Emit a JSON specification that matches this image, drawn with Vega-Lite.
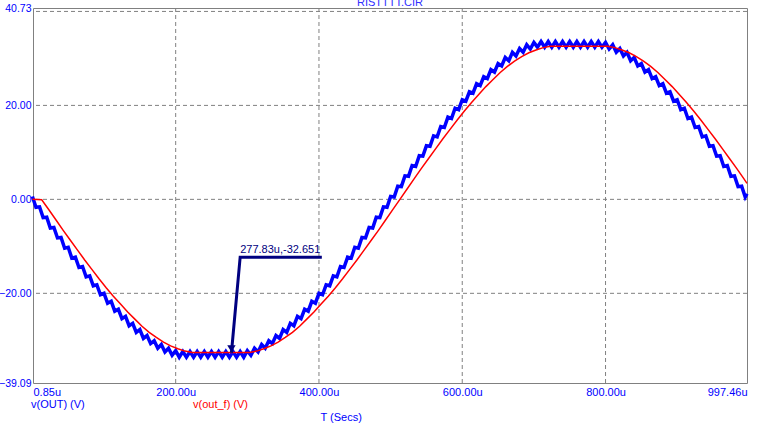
{
"$schema": "https://vega.github.io/schema/vega-lite/v6.json",
"width": 714,
"height": 375,
"autosize": {"type": "none"},
"padding": {"left": 33, "top": 8, "right": 24, "bottom": 43},
"config": {"font": "Liberation Sans", "view": {"stroke": "#808080", "strokeWidth": 1}},
"datasets": {
"gridy": [{"gy": 40}, {"gy": 20}, {"gy": 0}, {"gy": -20}],
"gridx": [{"gx": 200}, {"gx": 400}, {"gx": 600}, {"gx": 800}],
"cursor": [{"t": 277.83, "v": -32.651, "o": 0, "lab": "277.83u,-32.651"}, {"t": 290, "v": -12.3, "o": 1, "lab": ""}, {"t": 404, "v": -12.3, "o": 2, "lab": ""}],
"blue": [
{"t":0,"v":0.6},{"t":5,"v":-1.7},{"t":10,"v":-1.6},{"t":15,"v":-3.9},{"t":20,"v":-3.8},{"t":25,"v":-6.1},{"t":30,"v":-6.0},{"t":35,"v":-8.2},{"t":40,"v":-8.1},{"t":45,"v":-10.4},
{"t":50,"v":-10.2},{"t":55,"v":-12.5},{"t":60,"v":-12.3},{"t":65,"v":-14.5},{"t":70,"v":-14.3},{"t":75,"v":-16.5},{"t":80,"v":-16.3},{"t":85,"v":-18.4},{"t":90,"v":-18.2},{"t":95,"v":-20.3},
{"t":100,"v":-20.0},{"t":105,"v":-22.1},{"t":110,"v":-21.7},{"t":115,"v":-23.8},{"t":120,"v":-23.4},{"t":125,"v":-25.4},{"t":130,"v":-24.9},{"t":135,"v":-26.9},{"t":140,"v":-26.4},{"t":145,"v":-28.3},
{"t":150,"v":-27.7},{"t":155,"v":-29.6},{"t":160,"v":-29.0},{"t":165,"v":-30.7},{"t":170,"v":-30.1},{"t":175,"v":-31.7},{"t":180,"v":-30.9},{"t":185,"v":-32.5},{"t":190,"v":-31.7},{"t":195,"v":-33.2},
{"t":200,"v":-32.2},{"t":205,"v":-33.6},{"t":210,"v":-32.4},{"t":215,"v":-33.6},{"t":220,"v":-32.4},{"t":225,"v":-33.6},{"t":230,"v":-32.4},{"t":235,"v":-33.6},{"t":240,"v":-32.4},{"t":245,"v":-33.6},
{"t":250,"v":-32.4},{"t":255,"v":-33.6},{"t":260,"v":-32.4},{"t":265,"v":-33.6},{"t":270,"v":-32.4},{"t":275,"v":-33.6},{"t":280,"v":-32.4},{"t":285,"v":-33.6},{"t":290,"v":-32.4},{"t":295,"v":-33.6},
{"t":300,"v":-32.2},{"t":305,"v":-33.2},{"t":310,"v":-31.7},{"t":315,"v":-32.5},{"t":320,"v":-30.9},{"t":325,"v":-31.7},{"t":330,"v":-30.1},{"t":335,"v":-30.7},{"t":340,"v":-29.0},{"t":345,"v":-29.6},
{"t":350,"v":-27.7},{"t":355,"v":-28.3},{"t":360,"v":-26.4},{"t":365,"v":-26.9},{"t":370,"v":-24.9},{"t":375,"v":-25.4},{"t":380,"v":-23.4},{"t":385,"v":-23.8},{"t":390,"v":-21.7},{"t":395,"v":-22.1},
{"t":400,"v":-20.0},{"t":405,"v":-20.3},{"t":410,"v":-18.2},{"t":415,"v":-18.4},{"t":420,"v":-16.3},{"t":425,"v":-16.5},{"t":430,"v":-14.3},{"t":435,"v":-14.5},{"t":440,"v":-12.3},{"t":445,"v":-12.5},
{"t":450,"v":-10.2},{"t":455,"v":-10.4},{"t":460,"v":-8.1},{"t":465,"v":-8.2},{"t":470,"v":-6.0},{"t":475,"v":-6.1},{"t":480,"v":-3.8},{"t":485,"v":-3.9},{"t":490,"v":-1.6},{"t":495,"v":-1.7},
{"t":500,"v":0.6},{"t":505,"v":0.5},{"t":510,"v":2.8},{"t":515,"v":2.7},{"t":520,"v":5.0},{"t":525,"v":4.9},{"t":530,"v":7.2},{"t":535,"v":7.0},{"t":540,"v":9.3},{"t":545,"v":9.2},
{"t":550,"v":11.4},{"t":555,"v":11.3},{"t":560,"v":13.5},{"t":565,"v":13.3},{"t":570,"v":15.5},{"t":575,"v":15.3},{"t":580,"v":17.5},{"t":585,"v":17.2},{"t":590,"v":19.4},{"t":595,"v":19.1},
{"t":600,"v":21.2},{"t":605,"v":20.9},{"t":610,"v":22.9},{"t":615,"v":22.6},{"t":620,"v":24.6},{"t":625,"v":24.2},{"t":630,"v":26.1},{"t":635,"v":25.7},{"t":640,"v":27.6},{"t":645,"v":27.1},
{"t":650,"v":28.9},{"t":655,"v":28.4},{"t":660,"v":30.2},{"t":665,"v":29.5},{"t":670,"v":31.3},{"t":675,"v":30.5},{"t":680,"v":32.1},{"t":685,"v":31.3},{"t":690,"v":32.9},{"t":695,"v":32.0},
{"t":700,"v":33.4},{"t":705,"v":32.4},{"t":710,"v":33.6},{"t":715,"v":32.4},{"t":720,"v":33.6},{"t":725,"v":32.4},{"t":730,"v":33.6},{"t":735,"v":32.4},{"t":740,"v":33.6},{"t":745,"v":32.4},
{"t":750,"v":33.6},{"t":755,"v":32.4},{"t":760,"v":33.6},{"t":765,"v":32.4},{"t":770,"v":33.6},{"t":775,"v":32.4},{"t":780,"v":33.6},{"t":785,"v":32.4},{"t":790,"v":33.6},{"t":795,"v":32.4},
{"t":800,"v":33.4},{"t":805,"v":32.0},{"t":810,"v":32.9},{"t":815,"v":31.3},{"t":820,"v":32.1},{"t":825,"v":30.5},{"t":830,"v":31.3},{"t":835,"v":29.5},{"t":840,"v":30.2},{"t":845,"v":28.4},
{"t":850,"v":28.9},{"t":855,"v":27.1},{"t":860,"v":27.6},{"t":865,"v":25.7},{"t":870,"v":26.1},{"t":875,"v":24.2},{"t":880,"v":24.6},{"t":885,"v":22.6},{"t":890,"v":22.9},{"t":895,"v":20.9},
{"t":900,"v":21.2},{"t":905,"v":19.1},{"t":910,"v":19.4},{"t":915,"v":17.2},{"t":920,"v":17.5},{"t":925,"v":15.3},{"t":930,"v":15.5},{"t":935,"v":13.3},{"t":940,"v":13.5},{"t":945,"v":11.3},
{"t":950,"v":11.4},{"t":955,"v":9.2},{"t":960,"v":9.3},{"t":965,"v":7.0},{"t":970,"v":7.2},{"t":975,"v":4.9},{"t":980,"v":5.0},{"t":985,"v":2.7},{"t":990,"v":2.8},{"t":995,"v":0.5},
{"t":997.46,"v":1.2}
],
"red": [
{"t":0,"v":0},{"t":13,"v":-0.1},{"t":23,"v":-2.2},{"t":33,"v":-4.4},{"t":43,"v":-6.6},{"t":53,"v":-8.7},{"t":63,"v":-10.8},{"t":73,"v":-12.9},{"t":83,"v":-14.9},{"t":93,"v":-16.9},
{"t":103,"v":-18.8},{"t":113,"v":-20.6},{"t":123,"v":-22.3},{"t":133,"v":-24.0},{"t":143,"v":-25.5},{"t":153,"v":-27.0},{"t":163,"v":-28.3},{"t":173,"v":-29.4},{"t":183,"v":-30.4},{"t":193,"v":-31.2},
{"t":203,"v":-31.8},{"t":213,"v":-32.3},{"t":223,"v":-32.6},{"t":233,"v":-32.6},{"t":243,"v":-32.6},{"t":253,"v":-32.6},{"t":263,"v":-32.6},{"t":273,"v":-32.6},{"t":283,"v":-32.6},{"t":293,"v":-32.6},
{"t":303,"v":-32.6},{"t":313,"v":-32.3},{"t":323,"v":-31.8},{"t":333,"v":-31.2},{"t":343,"v":-30.4},{"t":353,"v":-29.4},{"t":363,"v":-28.3},{"t":373,"v":-27.0},{"t":383,"v":-25.5},{"t":393,"v":-24.0},
{"t":403,"v":-22.3},{"t":413,"v":-20.6},{"t":423,"v":-18.8},{"t":433,"v":-16.9},{"t":443,"v":-14.9},{"t":453,"v":-12.9},{"t":463,"v":-10.8},{"t":473,"v":-8.7},{"t":483,"v":-6.6},{"t":493,"v":-4.4},
{"t":503,"v":-2.2},{"t":513,"v":0},{"t":523,"v":2.2},{"t":533,"v":4.4},{"t":543,"v":6.6},{"t":553,"v":8.7},{"t":563,"v":10.8},{"t":573,"v":12.9},{"t":583,"v":14.9},{"t":593,"v":16.9},
{"t":603,"v":18.8},{"t":613,"v":20.6},{"t":623,"v":22.3},{"t":633,"v":24.0},{"t":643,"v":25.5},{"t":653,"v":27.0},{"t":663,"v":28.3},{"t":673,"v":29.4},{"t":683,"v":30.4},{"t":693,"v":31.2},
{"t":703,"v":31.8},{"t":713,"v":32.3},{"t":723,"v":32.6},{"t":733,"v":32.6},{"t":743,"v":32.6},{"t":753,"v":32.6},{"t":763,"v":32.6},{"t":773,"v":32.6},{"t":783,"v":32.6},{"t":793,"v":32.6},
{"t":803,"v":32.6},{"t":813,"v":32.3},{"t":823,"v":31.8},{"t":833,"v":31.2},{"t":843,"v":30.4},{"t":853,"v":29.4},{"t":863,"v":28.3},{"t":873,"v":27.0},{"t":883,"v":25.5},{"t":893,"v":24.0},
{"t":903,"v":22.3},{"t":913,"v":20.6},{"t":923,"v":18.8},{"t":933,"v":16.9},{"t":943,"v":14.9},{"t":953,"v":12.9},{"t":963,"v":10.8},{"t":973,"v":8.7},{"t":983,"v":6.6},{"t":993,"v":4.4},
{"t":997.46,"v":3.4}
]
},
"layer": [
{
"data": {"name": "gridy"},
"mark": {"type": "rule", "color": "#808080", "strokeDash": [4, 3], "strokeWidth": 1},
"encoding": {"y": {"field": "gy", "type": "quantitative", "scale": {"domain": [-39.09, 40.73], "nice": false, "zero": false}}}
},
{
"data": {"name": "gridx"},
"mark": {"type": "rule", "color": "#808080", "strokeDash": [4, 3], "strokeWidth": 1},
"encoding": {"x": {"field": "gx", "type": "quantitative", "scale": {"domain": [0.85, 997.46], "nice": false, "zero": false}}}
},
{
"data": {"name": "blue"},
"mark": {"type": "line", "strokeWidth": 3.5, "strokeJoin": "miter"},
"encoding": {
"x": {"field": "t", "type": "quantitative", "scale": {"domain": [0.85, 997.46], "nice": false, "zero": false},
 "axis": {"values": [0.85, 200, 400, 600, 800, 997.46], "labelExpr": "format(datum.value, '.2f') + 'u'", "labelFlush": true, "labelOverlap": false, "grid": false, "ticks": false, "domain": false, "labelPadding": 3, "labelColor": "#0000FF", "labelFontSize": 11, "title": "T (Secs)", "titleColor": "#0000FF", "titleFontSize": 11, "titleFontWeight": "normal", "titleX": 287, "titleY": 28, "titleAlign": "left", "titleBaseline": "top"}},
"y": {"field": "v", "type": "quantitative", "scale": {"domain": [-39.09, 40.73], "nice": false, "zero": false},
 "axis": {"values": [-39.09, -20, 0, 20, 40.73], "format": ".2f", "labelOverlap": false, "grid": false, "ticks": false, "domain": false, "labelPadding": 2, "labelColor": "#0000FF", "labelFontSize": 10.5, "title": null}},
"color": {"datum": "v(OUT) (V)", "type": "nominal",
 "scale": {"domain": ["v(OUT) (V)", "v(out_f) (V)"], "range": ["#0000FF", "#FF0000"]},
 "legend": {"orient": "none", "legendX": -13, "legendY": 391, "direction": "horizontal", "title": null, "symbolSize": 0, "symbolStrokeWidth": 0, "symbolOpacity": 0, "labelOffset": 0, "columnPadding": 97, "labelFontSize": 11, "labelLimit": 200,
  "encode": {"labels": {"update": {"fill": {"scale": "color", "field": "value"}}}}}}
}
},
{
"data": {"name": "red"},
"mark": {"type": "line", "strokeWidth": 1.5},
"encoding": {
"x": {"field": "t", "type": "quantitative", "scale": {"domain": [0.85, 997.46], "nice": false, "zero": false}},
"y": {"field": "v", "type": "quantitative", "scale": {"domain": [-39.09, 40.73], "nice": false, "zero": false}},
"color": {"datum": "v(out_f) (V)", "type": "nominal"}
}
},
{
"data": {"name": "cursor"},
"mark": {"type": "line", "color": "#000080", "strokeWidth": 3, "strokeJoin": "miter"},
"encoding": {
"x": {"field": "t", "type": "quantitative", "scale": {"domain": [0.85, 997.46], "nice": false, "zero": false}},
"y": {"field": "v", "type": "quantitative", "scale": {"domain": [-39.09, 40.73], "nice": false, "zero": false}},
"order": {"field": "o"}
}
},
{
"data": {"name": "cursor"},
"transform": [{"filter": "datum.o == 0"}],
"mark": {"type": "point", "shape": "triangle-down", "filled": true, "color": "#000080", "size": 70, "opacity": 1, "yOffset": -4},
"encoding": {
"x": {"field": "t", "type": "quantitative"},
"y": {"field": "v", "type": "quantitative"}
}
},
{
"data": {"name": "cursor"},
"transform": [{"filter": "datum.o == 0"}],
"mark": {"type": "text", "color": "#000080", "fontSize": 11, "align": "left", "baseline": "bottom", "dx": 0, "dy": -2},
"encoding": {
"x": {"datum": 290, "type": "quantitative"},
"y": {"datum": -12.3, "type": "quantitative"},
"text": {"field": "lab"}
}
},
{
"data": {"values": [{"title": "RISTTTT.CIR"}]},
"mark": {"type": "text", "color": "#3030FF", "fontSize": 11, "align": "center", "baseline": "alphabetic", "dy": -2},
"encoding": {
"x": {"datum": 499.16, "type": "quantitative"},
"y": {"datum": 40.73, "type": "quantitative"},
"text": {"field": "title"}
}
}
]
}
